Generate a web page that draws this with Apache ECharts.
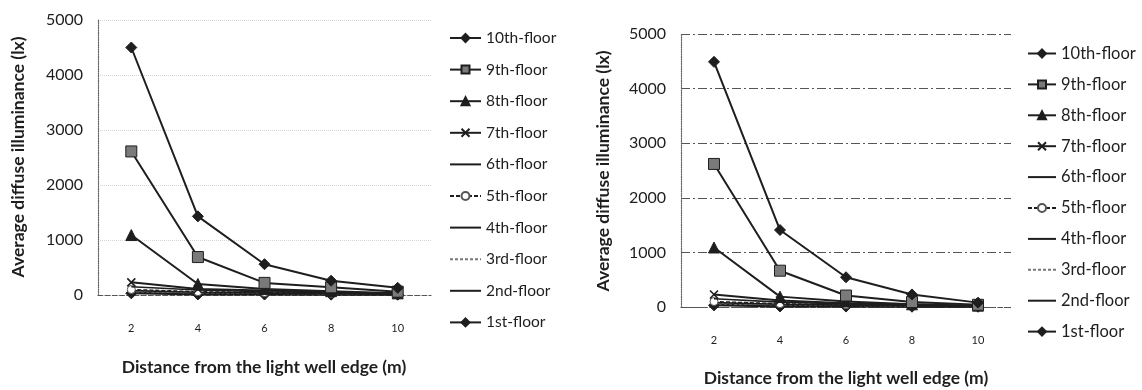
<!DOCTYPE html>
<html>
<head>
<meta charset="utf-8">
<script src="https://cdn.jsdelivr.net/npm/echarts@6/dist/echarts.min.js"></script>
<style>
  html, body { margin: 0; padding: 0; background: #fff; }
  #chart { width: 1142px; height: 390px; }
</style>
</head>
<body>
<div id="chart"></div>
<script>
// Distance from the light well edge (m)
const distances = ['2', '4', '6', '8', '10'];
const floors = ['10th-floor', '9th-floor', '8th-floor', '7th-floor', '6th-floor',
                '5th-floor', '4th-floor', '3rd-floor', '2nd-floor', '1st-floor'];

// Left panel: average diffuse illuminance (lx) per floor
const leftFloor10 = [4500, 1430, 560, 260, 130];
const leftFloor9  = [2610, 690, 220, 140, 60];
const leftFloor8  = [1090, 200, 110, 70, 30];
const leftFloor7  = [230, 110, 80, 50, 25];
const leftFloor6  = [150, 90, 60, 40, 20];
const leftFloor5  = [100, 60, 45, 30, 15];
const leftFloor4  = [80, 50, 35, 25, 12];
const leftFloor3  = [60, 40, 30, 20, 10];
const leftFloor2  = [45, 25, 20, 15, 8];
const leftFloor1  = [30, 10, 8, 6, 5];

// Right panel: average diffuse illuminance (lx) per floor
const rightFloor10 = [4490, 1410, 545, 230, 80];
const rightFloor9  = [2620, 665, 210, 90, 40];
const rightFloor8  = [1090, 190, 100, 50, 25];
const rightFloor7  = [230, 120, 70, 45, 20];
const rightFloor6  = [150, 90, 55, 35, 15];
const rightFloor5  = [100, 60, 40, 25, 12];
const rightFloor4  = [80, 50, 35, 20, 10];
const rightFloor3  = [60, 40, 30, 15, 8];
const rightFloor2  = [45, 25, 20, 12, 6];
const rightFloor1  = [30, 10, 8, 5, 4];

const leftData = [leftFloor10, leftFloor9, leftFloor8, leftFloor7, leftFloor6,
                  leftFloor5, leftFloor4, leftFloor3, leftFloor2, leftFloor1];
const rightData = [rightFloor10, rightFloor9, rightFloor8, rightFloor7, rightFloor6,
                   rightFloor5, rightFloor4, rightFloor3, rightFloor2, rightFloor1];

const INK = '#1e1e1e';
const FONT = 'Lato';

// Per-floor marker and line look
const looks = [
  { symbol: 'diamond', size: 11, fill: INK, border: INK, width: 2 },
  { symbol: 'rect', size: 11, fill: '#7a7a7a', border: INK, width: 2 },
  { symbol: 'triangle', size: 11, fill: INK, border: INK, width: 2 },
  { symbol: 'path://M0,0L10,10M10,0L0,10', size: 8, fill: 'none', border: INK, width: 2 },
  { symbol: 'none', size: 0, fill: INK, border: INK, width: 1.6 },
  { symbol: 'circle', size: 8, fill: '#fff', border: '#555', width: 1.4, dash: [4, 2] },
  { symbol: 'none', size: 0, fill: INK, border: INK, width: 1.6 },
  { symbol: 'none', size: 0, fill: '#777', border: '#777', width: 1.2, dash: [3, 2] },
  { symbol: 'none', size: 0, fill: INK, border: INK, width: 1.6 },
  { symbol: 'diamond', size: 11, fill: INK, border: INK, width: 2 }
];

function makeSeries(data, axisIndex) {
  return floors.map((name, i) => {
    const lk = looks[i];
    return {
      name: name,
      type: 'line',
      xAxisIndex: axisIndex,
      yAxisIndex: axisIndex,
      data: data[i],
      symbol: lk.symbol,
      symbolSize: lk.size,
      showSymbol: lk.symbol !== 'none',
      z: 20 - i,
      animation: false,
      lineStyle: { color: lk.border === '#555' ? INK : lk.border, width: lk.width, type: lk.dash || 'solid' },
      itemStyle: { color: lk.fill, borderColor: lk.border, borderWidth: lk.symbol.indexOf('path') === 0 ? 1.6 : 1 }
    };
  });
}

function yAxisFor(gridIndex, gridLine) {
  return {
    type: 'value', gridIndex: gridIndex, min: 0, max: 5000, interval: 1000,
    axisLine: { show: true, lineStyle: { color: '#666', type: 'dotted', width: 1.2 } },
    axisTick: { show: false },
    axisLabel: { color: INK, fontFamily: FONT, fontSize: 16, margin: 15, formatter: v => String(v) },
    splitLine: { show: true, lineStyle: gridLine }
  };
}

function xAxisFor(gridIndex) {
  return {
    type: 'category', gridIndex: gridIndex, data: distances, boundaryGap: true,
    axisLine: { show: true, lineStyle: { color: '#555', type: 'dashed', width: 1.2 } },
    axisTick: { show: false },
    axisLabel: { color: INK, fontFamily: FONT, fontSize: 11, margin: 28 }
  };
}

// Legend entries: floors drawn without markers show only their line
const legendItems = floors.map((name, i) =>
  looks[i].symbol === 'none' ? { name: name, itemStyle: { opacity: 0 } } : { name: name });

function legendFor(left, top, gap, fontSize, width) {
  return {
    orient: 'vertical', left: left, top: top, data: legendItems, padding: 0,
    itemWidth: width, itemHeight: 10, itemGap: gap,
    selectedMode: false,
    textStyle: { color: INK, fontFamily: FONT, fontSize: fontSize, lineHeight: 16 }
  };
}

function titleText(x, y, text, rotated, size) {
  return {
    type: 'text', x: x, y: y, rotation: rotated ? Math.PI / 2 : 0,
    style: {
      text: text, align: 'center', verticalAlign: 'middle',
      fill: INK, font: 'bold ' + size + 'px ' + FONT
    }
  };
}

const chart = echarts.init(document.getElementById('chart'), null, { renderer: 'canvas' });
chart.setOption({
  backgroundColor: '#fff',
  animation: false,
  grid: [
    { left: 98, top: 20, width: 333, height: 275 },
    { left: 681, top: 34, width: 330, height: 273 }
  ],
  xAxis: [xAxisFor(0), xAxisFor(1)],
  yAxis: [
    yAxisFor(0, { color: '#d6d6d6', type: 'dotted', width: 1 }),
    yAxisFor(1, { color: '#555', type: [9, 3, 2, 3], width: 1 })
  ],
  legend: [
    legendFor(449, 30, 15.6, 15.5, 31),
    legendFor(1027, 45, 13.9, 16.5, 28)
  ],
  graphic: [
    titleText(18, 157, 'Average diffuse illuminance (lx)', true, 17.5),
    titleText(603, 171, 'Average diffuse illuminance (lx)', true, 17.5),
    titleText(264, 367, 'Distance from the light well edge (m)', false, 17.5),
    titleText(846, 378, 'Distance from the light well edge (m)', false, 17.5)
  ],
  series: makeSeries(leftData, 0).concat(makeSeries(rightData, 1))
});
</script>
</body>
</html>
